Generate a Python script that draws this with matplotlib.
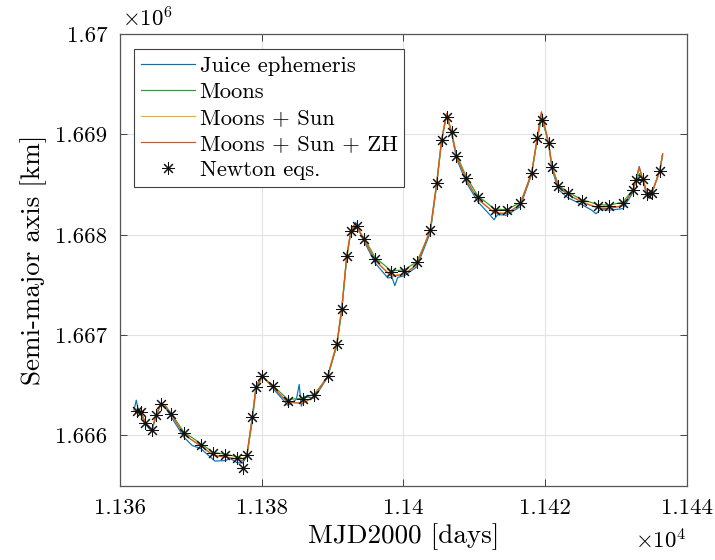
import matplotlib
matplotlib.use("Agg")
import matplotlib.pyplot as plt

plt.rcParams['font.family'] = 'serif'
plt.rcParams['font.serif'] = ['cmr10', 'DejaVu Serif']
plt.rcParams['mathtext.fontset'] = 'cm'
plt.rcParams['axes.formatter.use_mathtext'] = True

# ---- Data (MJD2000 days, semi-major axis km) ----
newton_t = [11362.4, 11362.9, 11363.6, 11364.5, 11365.1, 11365.8, 11367.2, 11369.0, 11371.4, 11373.2,
            11374.8, 11376.5, 11377.3, 11377.9, 11378.7, 11379.2, 11380.1, 11381.6, 11383.7, 11385.8,
            11387.4, 11389.3, 11390.6, 11391.3, 11392.0, 11392.6, 11393.4, 11394.5, 11396.0, 11398.3,
            11400.1, 11401.9, 11403.8, 11404.7, 11405.4, 11406.2, 11406.8, 11407.5, 11408.9, 11410.5,
            11412.9, 11414.6, 11416.5, 11418.1, 11418.9, 11419.6, 11420.5, 11421.0, 11421.9, 11423.2,
            11425.2, 11427.5, 11429.1, 11431.0, 11432.4, 11432.9, 11433.8, 11434.4, 11435.1, 11436.2]
newton_a = [1666249, 1666236, 1666126, 1666053, 1666206, 1666318, 1666219, 1666020, 1665908, 1665821,
            1665808, 1665774, 1665675, 1665801, 1666186, 1666483, 1666590, 1666491, 1666348, 1666365,
            1666408, 1666590, 1666913, 1667261, 1667784, 1668040, 1668090, 1667957, 1667761, 1667629,
            1667642, 1667724, 1668050, 1668514, 1668945, 1669171, 1669025, 1668789, 1668564, 1668378,
            1668249, 1668242, 1668315, 1668617, 1668962, 1669144, 1668918, 1668670, 1668481, 1668415,
            1668341, 1668289, 1668282, 1668315, 1668441, 1668547, 1668554, 1668408, 1668415, 1668640]

zh_t = [11362.0, 11362.4, 11362.9, 11363.6, 11364.5, 11365.1, 11365.8, 11366.4, 11367.2, 11369.0,
        11371.4, 11373.2, 11374.8, 11376.5, 11377.3, 11377.9, 11378.7, 11379.2, 11380.1, 11381.6,
        11383.7, 11385.8, 11387.4, 11389.3, 11390.6, 11391.3, 11392.0, 11392.6, 11393.2, 11394.5,
        11396.0, 11398.3, 11400.1, 11401.9, 11403.8, 11404.7, 11405.4, 11406.1, 11406.8, 11407.5,
        11408.9, 11410.5, 11412.9, 11414.6, 11416.5, 11418.1, 11418.9, 11419.5, 11420.5, 11421.0,
        11421.9, 11423.2, 11425.2, 11427.5, 11429.1, 11431.0, 11432.4, 11433.3, 11433.8, 11434.4,
        11435.1, 11436.2, 11436.6]
zh_a = [1666255, 1666249, 1666240, 1666130, 1666060, 1666200, 1666315, 1666300, 1666215, 1666010,
        1665895, 1665800, 1665785, 1665765, 1665745, 1665800, 1666186, 1666483, 1666590, 1666480,
        1666330, 1666320, 1666385, 1666590, 1666913, 1667261, 1667784, 1668040, 1668100, 1667950,
        1667745, 1667585, 1667605, 1667700, 1668050, 1668514, 1668945, 1669210, 1669025, 1668780,
        1668545, 1668355, 1668215, 1668210, 1668300, 1668617, 1668962, 1669225, 1668918, 1668670,
        1668475, 1668400, 1668325, 1668265, 1668260, 1668290, 1668441, 1668670, 1668554, 1668408,
        1668415, 1668640, 1668806]

sun_t = zh_t
sun_a = [1666255, 1666249, 1666240, 1666130, 1666060, 1666200, 1666315, 1666300, 1666215, 1666010,
         1665898, 1665805, 1665790, 1665768, 1665748, 1665800, 1666186, 1666483, 1666590, 1666482,
         1666333, 1666325, 1666388, 1666590, 1666913, 1667261, 1667784, 1668040, 1668100, 1667952,
         1667748, 1667590, 1667610, 1667703, 1668050, 1668514, 1668945, 1669205, 1669025, 1668782,
         1668548, 1668358, 1668220, 1668215, 1668303, 1668617, 1668962, 1669215, 1668918, 1668670,
         1668478, 1668403, 1668328, 1668270, 1668265, 1668293, 1668441, 1668660, 1668554, 1668408,
         1668415, 1668640, 1668800]

moons_t = zh_t
moons_a = [1666255, 1666249, 1666236, 1666126, 1666055, 1666200, 1666318, 1666290, 1666225, 1666035,
           1665920, 1665830, 1665815, 1665790, 1665770, 1665790, 1666150, 1666460, 1666585, 1666495,
           1666360, 1666370, 1666410, 1666580, 1666890, 1667240, 1667760, 1668030, 1668085, 1667965,
           1667775, 1667640, 1667650, 1667730, 1668030, 1668490, 1668930, 1669185, 1669030, 1668800,
           1668575, 1668390, 1668255, 1668250, 1668320, 1668600, 1668945, 1669160, 1668925, 1668680,
           1668495, 1668425, 1668350, 1668300, 1668295, 1668325, 1668450, 1668610, 1668560, 1668420,
           1668420, 1668630, 1668790]

juice_t = [11362.0, 11362.3, 11362.6, 11362.9, 11363.6, 11364.5, 11365.1, 11365.8, 11366.4, 11367.2,
           11369.0, 11370.2, 11371.4, 11373.4, 11374.8, 11375.6, 11376.5, 11377.3, 11377.9, 11378.7,
           11379.2, 11380.1, 11381.6, 11383.7, 11384.9, 11385.3, 11385.6, 11386.0, 11387.4, 11389.3,
           11390.6, 11391.3, 11392.0, 11392.6, 11393.3, 11394.5, 11396.0, 11397.8, 11398.4, 11398.8,
           11399.2, 11400.1, 11401.9, 11403.8, 11404.7, 11405.4, 11406.1, 11406.8, 11407.5, 11408.9,
           11410.5, 11412.2, 11412.8, 11413.3, 11414.6, 11416.5, 11418.1, 11418.9, 11419.5, 11420.5,
           11421.0, 11421.9, 11423.2, 11425.2, 11426.6, 11427.2, 11427.8, 11429.1, 11431.0, 11432.4,
           11433.3, 11433.8, 11434.4, 11434.8, 11435.1, 11436.2, 11436.6]
juice_a = [1666260, 1666352, 1666250, 1666230, 1666110, 1666040, 1666200, 1666320, 1666280, 1666190,
           1665985, 1665900, 1665870, 1665745, 1665750, 1665770, 1665730, 1665725, 1665790, 1666200,
           1666490, 1666600, 1666470, 1666300, 1666360, 1666508, 1666292, 1666390, 1666370, 1666580,
           1666900, 1667250, 1667780, 1668050, 1668122, 1667930, 1667720, 1667570, 1667575, 1667493,
           1667575, 1667590, 1667680, 1668020, 1668500, 1668940, 1669200, 1669010, 1668760, 1668520,
           1668330, 1668200, 1668149, 1668200, 1668195, 1668280, 1668600, 1668960, 1669215, 1668900,
           1668650, 1668450, 1668370, 1668300, 1668245, 1668209, 1668250, 1668245, 1668260, 1668420,
           1668680, 1668540, 1668390, 1668360, 1668420, 1668640, 1668806]

xticks = [11360, 11380, 11400, 11420, 11440]
xticklabels = ['1.136', '1.138', '1.14', '1.142', '1.144']
yticks = [1666000, 1667000, 1668000, 1669000, 1670000]
yticklabels = ['1.666', '1.667', '1.668', '1.669', '1.67']

labels = ['Juice ephemeris', 'Moons', 'Moons + Sun', 'Moons + Sun + ZH', 'Newton eqs.']
colors = ['#0072BD', '#2E9A2E', '#EDB120', '#D95319']

fig = plt.figure(figsize=(7.15, 5.6), dpi=100)
ax = fig.add_axes([0.1678, 0.1327, 0.7926, 0.8066])

lw = 0.85
h1, = ax.plot(juice_t, juice_a, color=colors[0], lw=lw, label=labels[0])
h2, = ax.plot(moons_t, moons_a, color=colors[1], lw=lw, label=labels[1])
h3, = ax.plot(sun_t, sun_a, color=colors[2], lw=lw, label=labels[2])
h4, = ax.plot(zh_t, zh_a, color=colors[3], lw=lw, label=labels[3])
h5, = ax.plot(newton_t, newton_a, linestyle='none', marker=(8, 2, 0), markersize=9,
              markeredgewidth=0.75, color='#111111', label=labels[4])

ax.set_xlim(11360, 11440)
ax.set_ylim(1665500, 1670000)
ax.set_xticks(xticks)
ax.set_xticklabels(xticklabels)
ax.set_yticks(yticks)
ax.set_yticklabels(yticklabels)
ax.tick_params(direction='in', length=5, width=0.7, color='#404040', labelsize=16.5,
               top=True, right=True, pad=9)
ax.grid(True, color='#e3e3e3', linewidth=0.8)
ax.set_axisbelow(True)
for sp in ax.spines.values():
    sp.set_color('#555555')
    sp.set_linewidth(0.9)

ax.set_xlabel('MJD2000 [days]', fontsize=19.5, labelpad=4)
ax.set_ylabel('Semi-major axis [km]', fontsize=19.5, labelpad=6)

fig.text(122 / 715, 1 - 18 / 560, r'$\times10^{6}$', fontsize=16.5, va='center', ha='left')
fig.text(686 / 715, 1 - 540 / 560, r'$\times10^{4}$', fontsize=16.5, va='center', ha='right')

leg = ax.legend(handles=[h1, h2, h3, h4, h5], loc='upper left',
                bbox_to_anchor=(0.0247, 0.9668), fontsize=16.3, frameon=True, fancybox=False,
                framealpha=1, edgecolor='#404040', borderaxespad=0, handlelength=2.4,
                handletextpad=0.2, labelspacing=0.28, borderpad=0.3)
leg.get_frame().set_linewidth(0.8)

fig.savefig('out.png', dpi=100)
